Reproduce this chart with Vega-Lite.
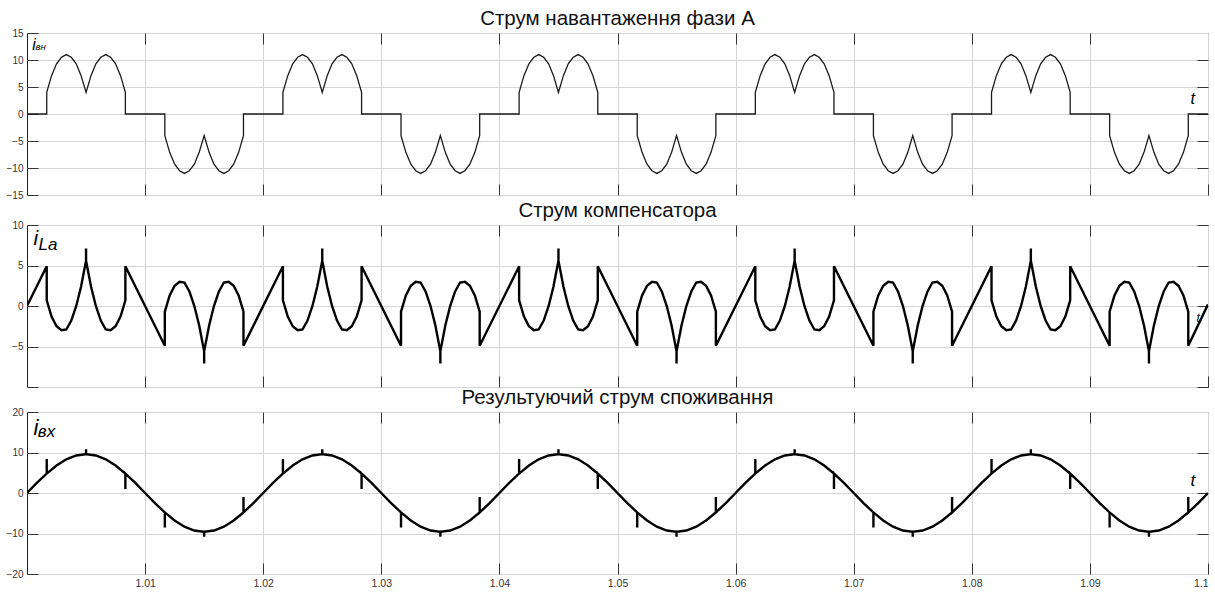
{
"$schema":"https://vega.github.io/schema/vega-lite/v6.json",
"background":"white",
"padding":{"left":5,"top":8,"right":8,"bottom":1},
"spacing":-1,
"config":{
 "font":"Liberation Sans",
 "view":{"stroke":"#222","strokeWidth":1},
 "axis":{"grid":true,"gridColor":"#d4d4d4","gridWidth":1,"domain":false,"tickColor":"#333","tickSize":-11,"tickWidth":1,"labelFont":"Liberation Sans","labelFontSize":10,"labelColor":"#333","title":null},
 "title":{"fontSize":20.5,"fontWeight":"normal","font":"Liberation Sans","color":"#111","offset":-1}
},
"vconcat":[
{
 "title":"Струм навантаження фази А",
 "width":1181,"height":162,
 "layer":[
  {
   "data":{"values":[
{"t":1,"i":0},
{"t":1.00167,"i":0},{"t":1.00167,"i":4},{"t":1.00208,"i":7.1},{"t":1.0025,"i":9.3},{"t":1.00292,"i":10.5},{"t":1.00333,"i":11},{"t":1.00375,"i":10.5},{"t":1.00417,"i":9.3},{"t":1.00458,"i":7.1},{"t":1.005,"i":4},{"t":1.00542,"i":7.1},{"t":1.00583,"i":9.3},{"t":1.00625,"i":10.5},{"t":1.00667,"i":11},{"t":1.00708,"i":10.5},{"t":1.0075,"i":9.3},{"t":1.00792,"i":7.1},{"t":1.00833,"i":4},{"t":1.00833,"i":0},
{"t":1.01167,"i":0},{"t":1.01167,"i":-4},{"t":1.01208,"i":-7.1},{"t":1.0125,"i":-9.3},{"t":1.01292,"i":-10.5},{"t":1.01333,"i":-11},{"t":1.01375,"i":-10.5},{"t":1.01417,"i":-9.3},{"t":1.01458,"i":-7.1},{"t":1.015,"i":-4},{"t":1.01542,"i":-7.1},{"t":1.01583,"i":-9.3},{"t":1.01625,"i":-10.5},{"t":1.01667,"i":-11},{"t":1.01708,"i":-10.5},{"t":1.0175,"i":-9.3},{"t":1.01792,"i":-7.1},{"t":1.01833,"i":-4},{"t":1.01833,"i":0},
{"t":1.02167,"i":0},{"t":1.02167,"i":4},{"t":1.02208,"i":7.1},{"t":1.0225,"i":9.3},{"t":1.02292,"i":10.5},{"t":1.02333,"i":11},{"t":1.02375,"i":10.5},{"t":1.02417,"i":9.3},{"t":1.02458,"i":7.1},{"t":1.025,"i":4},{"t":1.02542,"i":7.1},{"t":1.02583,"i":9.3},{"t":1.02625,"i":10.5},{"t":1.02667,"i":11},{"t":1.02708,"i":10.5},{"t":1.0275,"i":9.3},{"t":1.02792,"i":7.1},{"t":1.02833,"i":4},{"t":1.02833,"i":0},
{"t":1.03167,"i":0},{"t":1.03167,"i":-4},{"t":1.03208,"i":-7.1},{"t":1.0325,"i":-9.3},{"t":1.03292,"i":-10.5},{"t":1.03333,"i":-11},{"t":1.03375,"i":-10.5},{"t":1.03417,"i":-9.3},{"t":1.03458,"i":-7.1},{"t":1.035,"i":-4},{"t":1.03542,"i":-7.1},{"t":1.03583,"i":-9.3},{"t":1.03625,"i":-10.5},{"t":1.03667,"i":-11},{"t":1.03708,"i":-10.5},{"t":1.0375,"i":-9.3},{"t":1.03792,"i":-7.1},{"t":1.03833,"i":-4},{"t":1.03833,"i":0},
{"t":1.04167,"i":0},{"t":1.04167,"i":4},{"t":1.04208,"i":7.1},{"t":1.0425,"i":9.3},{"t":1.04292,"i":10.5},{"t":1.04333,"i":11},{"t":1.04375,"i":10.5},{"t":1.04417,"i":9.3},{"t":1.04458,"i":7.1},{"t":1.045,"i":4},{"t":1.04542,"i":7.1},{"t":1.04583,"i":9.3},{"t":1.04625,"i":10.5},{"t":1.04667,"i":11},{"t":1.04708,"i":10.5},{"t":1.0475,"i":9.3},{"t":1.04792,"i":7.1},{"t":1.04833,"i":4},{"t":1.04833,"i":0},
{"t":1.05167,"i":0},{"t":1.05167,"i":-4},{"t":1.05208,"i":-7.1},{"t":1.0525,"i":-9.3},{"t":1.05292,"i":-10.5},{"t":1.05333,"i":-11},{"t":1.05375,"i":-10.5},{"t":1.05417,"i":-9.3},{"t":1.05458,"i":-7.1},{"t":1.055,"i":-4},{"t":1.05542,"i":-7.1},{"t":1.05583,"i":-9.3},{"t":1.05625,"i":-10.5},{"t":1.05667,"i":-11},{"t":1.05708,"i":-10.5},{"t":1.0575,"i":-9.3},{"t":1.05792,"i":-7.1},{"t":1.05833,"i":-4},{"t":1.05833,"i":0},
{"t":1.06167,"i":0},{"t":1.06167,"i":4},{"t":1.06208,"i":7.1},{"t":1.0625,"i":9.3},{"t":1.06292,"i":10.5},{"t":1.06333,"i":11},{"t":1.06375,"i":10.5},{"t":1.06417,"i":9.3},{"t":1.06458,"i":7.1},{"t":1.065,"i":4},{"t":1.06542,"i":7.1},{"t":1.06583,"i":9.3},{"t":1.06625,"i":10.5},{"t":1.06667,"i":11},{"t":1.06708,"i":10.5},{"t":1.0675,"i":9.3},{"t":1.06792,"i":7.1},{"t":1.06833,"i":4},{"t":1.06833,"i":0},
{"t":1.07167,"i":0},{"t":1.07167,"i":-4},{"t":1.07208,"i":-7.1},{"t":1.0725,"i":-9.3},{"t":1.07292,"i":-10.5},{"t":1.07333,"i":-11},{"t":1.07375,"i":-10.5},{"t":1.07417,"i":-9.3},{"t":1.07458,"i":-7.1},{"t":1.075,"i":-4},{"t":1.07542,"i":-7.1},{"t":1.07583,"i":-9.3},{"t":1.07625,"i":-10.5},{"t":1.07667,"i":-11},{"t":1.07708,"i":-10.5},{"t":1.0775,"i":-9.3},{"t":1.07792,"i":-7.1},{"t":1.07833,"i":-4},{"t":1.07833,"i":0},
{"t":1.08167,"i":0},{"t":1.08167,"i":4},{"t":1.08208,"i":7.1},{"t":1.0825,"i":9.3},{"t":1.08292,"i":10.5},{"t":1.08333,"i":11},{"t":1.08375,"i":10.5},{"t":1.08417,"i":9.3},{"t":1.08458,"i":7.1},{"t":1.085,"i":4},{"t":1.08542,"i":7.1},{"t":1.08583,"i":9.3},{"t":1.08625,"i":10.5},{"t":1.08667,"i":11},{"t":1.08708,"i":10.5},{"t":1.0875,"i":9.3},{"t":1.08792,"i":7.1},{"t":1.08833,"i":4},{"t":1.08833,"i":0},
{"t":1.09167,"i":0},{"t":1.09167,"i":-4},{"t":1.09208,"i":-7.1},{"t":1.0925,"i":-9.3},{"t":1.09292,"i":-10.5},{"t":1.09333,"i":-11},{"t":1.09375,"i":-10.5},{"t":1.09417,"i":-9.3},{"t":1.09458,"i":-7.1},{"t":1.095,"i":-4},{"t":1.09542,"i":-7.1},{"t":1.09583,"i":-9.3},{"t":1.09625,"i":-10.5},{"t":1.09667,"i":-11},{"t":1.09708,"i":-10.5},{"t":1.0975,"i":-9.3},{"t":1.09792,"i":-7.1},{"t":1.09833,"i":-4},{"t":1.09833,"i":0},
{"t":1.1,"i":0}
   ]},
   "mark":{"type":"line","color":"#1a1a1a","strokeWidth":1.3,"clip":true},
   "encoding":{
    "x":{"field":"t","type":"quantitative","scale":{"domain":[1.0,1.1],"nice":false,"zero":false},"axis":{"orient":"bottom","values":[1.01,1.02,1.03,1.04,1.05,1.06,1.07,1.08,1.09,1.1],"labels":false,"maxExtent":0}},
    "y":{"field":"i","type":"quantitative","scale":{"domain":[-15,15],"nice":false},"axis":{"orient":"left","values":[-15,-10,-5,0,5,10,15],"labelPadding":15,"minExtent":20,"maxExtent":20}},
    "order":{"value":null}
   }
  },
  {
   "data":{"values":[{"t":1.00045,"i":11.85,"s":"i"},{"t":1.00072,"i":11.85,"s":"вн"},{"t":1.09852,"i":1.85,"s":"t"}]},
   "mark":{"type":"text","align":"left","baseline":"alphabetic","fontStyle":"italic","color":"#000","font":"Liberation Sans"},
   "encoding":{
    "x":{"field":"t","type":"quantitative","axis":{"orient":"top","values":[1.01,1.02,1.03,1.04,1.05,1.06,1.07,1.08,1.09],"labels":false,"grid":false,"maxExtent":0}},
    "y":{"field":"i","type":"quantitative","axis":{"orient":"right","values":[-10,-5,0,5,10],"labels":false,"grid":false,"maxExtent":0}},
    "text":{"field":"s"},
    "size":{"condition":{"test":"datum.s=='вн'","value":9.5},"value":16}
   }
  }
 ],
 "resolve":{"axis":{"x":"independent","y":"independent"}}
},
{
 "title":"Струм компенсатора",
 "width":1181,"height":162,
 "layer":[
  {
   "data":{"values":[
{"t":1,"i":0},
{"t":1.00167,"i":4.9},{"t":1.00167,"i":0.7},{"t":1.00208,"i":-1.3},{"t":1.0025,"i":-2.5},{"t":1.00292,"i":-3},{"t":1.00333,"i":-2.9},{"t":1.00375,"i":-1.8},{"t":1.00417,"i":0},{"t":1.00458,"i":2.4},{"t":1.005,"i":5.6},{"t":1.005,"i":7.1},{"t":1.005,"i":5.6},{"t":1.00542,"i":2.4},{"t":1.00583,"i":0},{"t":1.00625,"i":-1.8},{"t":1.00667,"i":-2.9},{"t":1.00708,"i":-3},{"t":1.0075,"i":-2.5},{"t":1.00792,"i":-1.3},{"t":1.00833,"i":0.7},{"t":1.00833,"i":4.9},
{"t":1.01167,"i":-4.9},{"t":1.01167,"i":-0.7},{"t":1.01208,"i":1.3},{"t":1.0125,"i":2.5},{"t":1.01292,"i":3},{"t":1.01333,"i":2.9},{"t":1.01375,"i":1.8},{"t":1.01417,"i":0},{"t":1.01458,"i":-2.4},{"t":1.015,"i":-5.6},{"t":1.015,"i":-7.1},{"t":1.015,"i":-5.6},{"t":1.01542,"i":-2.4},{"t":1.01583,"i":0},{"t":1.01625,"i":1.8},{"t":1.01667,"i":2.9},{"t":1.01708,"i":3},{"t":1.0175,"i":2.5},{"t":1.01792,"i":1.3},{"t":1.01833,"i":-0.7},{"t":1.01833,"i":-4.9},
{"t":1.02167,"i":4.9},{"t":1.02167,"i":0.7},{"t":1.02208,"i":-1.3},{"t":1.0225,"i":-2.5},{"t":1.02292,"i":-3},{"t":1.02333,"i":-2.9},{"t":1.02375,"i":-1.8},{"t":1.02417,"i":0},{"t":1.02458,"i":2.4},{"t":1.025,"i":5.6},{"t":1.025,"i":7.1},{"t":1.025,"i":5.6},{"t":1.02542,"i":2.4},{"t":1.02583,"i":0},{"t":1.02625,"i":-1.8},{"t":1.02667,"i":-2.9},{"t":1.02708,"i":-3},{"t":1.0275,"i":-2.5},{"t":1.02792,"i":-1.3},{"t":1.02833,"i":0.7},{"t":1.02833,"i":4.9},
{"t":1.03167,"i":-4.9},{"t":1.03167,"i":-0.7},{"t":1.03208,"i":1.3},{"t":1.0325,"i":2.5},{"t":1.03292,"i":3},{"t":1.03333,"i":2.9},{"t":1.03375,"i":1.8},{"t":1.03417,"i":0},{"t":1.03458,"i":-2.4},{"t":1.035,"i":-5.6},{"t":1.035,"i":-7.1},{"t":1.035,"i":-5.6},{"t":1.03542,"i":-2.4},{"t":1.03583,"i":0},{"t":1.03625,"i":1.8},{"t":1.03667,"i":2.9},{"t":1.03708,"i":3},{"t":1.0375,"i":2.5},{"t":1.03792,"i":1.3},{"t":1.03833,"i":-0.7},{"t":1.03833,"i":-4.9},
{"t":1.04167,"i":4.9},{"t":1.04167,"i":0.7},{"t":1.04208,"i":-1.3},{"t":1.0425,"i":-2.5},{"t":1.04292,"i":-3},{"t":1.04333,"i":-2.9},{"t":1.04375,"i":-1.8},{"t":1.04417,"i":0},{"t":1.04458,"i":2.4},{"t":1.045,"i":5.6},{"t":1.045,"i":7.1},{"t":1.045,"i":5.6},{"t":1.04542,"i":2.4},{"t":1.04583,"i":0},{"t":1.04625,"i":-1.8},{"t":1.04667,"i":-2.9},{"t":1.04708,"i":-3},{"t":1.0475,"i":-2.5},{"t":1.04792,"i":-1.3},{"t":1.04833,"i":0.7},{"t":1.04833,"i":4.9},
{"t":1.05167,"i":-4.9},{"t":1.05167,"i":-0.7},{"t":1.05208,"i":1.3},{"t":1.0525,"i":2.5},{"t":1.05292,"i":3},{"t":1.05333,"i":2.9},{"t":1.05375,"i":1.8},{"t":1.05417,"i":0},{"t":1.05458,"i":-2.4},{"t":1.055,"i":-5.6},{"t":1.055,"i":-7.1},{"t":1.055,"i":-5.6},{"t":1.05542,"i":-2.4},{"t":1.05583,"i":0},{"t":1.05625,"i":1.8},{"t":1.05667,"i":2.9},{"t":1.05708,"i":3},{"t":1.0575,"i":2.5},{"t":1.05792,"i":1.3},{"t":1.05833,"i":-0.7},{"t":1.05833,"i":-4.9},
{"t":1.06167,"i":4.9},{"t":1.06167,"i":0.7},{"t":1.06208,"i":-1.3},{"t":1.0625,"i":-2.5},{"t":1.06292,"i":-3},{"t":1.06333,"i":-2.9},{"t":1.06375,"i":-1.8},{"t":1.06417,"i":0},{"t":1.06458,"i":2.4},{"t":1.065,"i":5.6},{"t":1.065,"i":7.1},{"t":1.065,"i":5.6},{"t":1.06542,"i":2.4},{"t":1.06583,"i":0},{"t":1.06625,"i":-1.8},{"t":1.06667,"i":-2.9},{"t":1.06708,"i":-3},{"t":1.0675,"i":-2.5},{"t":1.06792,"i":-1.3},{"t":1.06833,"i":0.7},{"t":1.06833,"i":4.9},
{"t":1.07167,"i":-4.9},{"t":1.07167,"i":-0.7},{"t":1.07208,"i":1.3},{"t":1.0725,"i":2.5},{"t":1.07292,"i":3},{"t":1.07333,"i":2.9},{"t":1.07375,"i":1.8},{"t":1.07417,"i":0},{"t":1.07458,"i":-2.4},{"t":1.075,"i":-5.6},{"t":1.075,"i":-7.1},{"t":1.075,"i":-5.6},{"t":1.07542,"i":-2.4},{"t":1.07583,"i":0},{"t":1.07625,"i":1.8},{"t":1.07667,"i":2.9},{"t":1.07708,"i":3},{"t":1.0775,"i":2.5},{"t":1.07792,"i":1.3},{"t":1.07833,"i":-0.7},{"t":1.07833,"i":-4.9},
{"t":1.08167,"i":4.9},{"t":1.08167,"i":0.7},{"t":1.08208,"i":-1.3},{"t":1.0825,"i":-2.5},{"t":1.08292,"i":-3},{"t":1.08333,"i":-2.9},{"t":1.08375,"i":-1.8},{"t":1.08417,"i":0},{"t":1.08458,"i":2.4},{"t":1.085,"i":5.6},{"t":1.085,"i":7.1},{"t":1.085,"i":5.6},{"t":1.08542,"i":2.4},{"t":1.08583,"i":0},{"t":1.08625,"i":-1.8},{"t":1.08667,"i":-2.9},{"t":1.08708,"i":-3},{"t":1.0875,"i":-2.5},{"t":1.08792,"i":-1.3},{"t":1.08833,"i":0.7},{"t":1.08833,"i":4.9},
{"t":1.09167,"i":-4.9},{"t":1.09167,"i":-0.7},{"t":1.09208,"i":1.3},{"t":1.0925,"i":2.5},{"t":1.09292,"i":3},{"t":1.09333,"i":2.9},{"t":1.09375,"i":1.8},{"t":1.09417,"i":0},{"t":1.09458,"i":-2.4},{"t":1.095,"i":-5.6},{"t":1.095,"i":-7.1},{"t":1.095,"i":-5.6},{"t":1.09542,"i":-2.4},{"t":1.09583,"i":0},{"t":1.09625,"i":1.8},{"t":1.09667,"i":2.9},{"t":1.09708,"i":3},{"t":1.0975,"i":2.5},{"t":1.09792,"i":1.3},{"t":1.09833,"i":-0.7},{"t":1.09833,"i":-4.9},
{"t":1.1,"i":0.2}
   ]},
   "mark":{"type":"line","color":"#000","strokeWidth":2.4,"clip":true},
   "encoding":{
    "x":{"field":"t","type":"quantitative","scale":{"domain":[1.0,1.1],"nice":false,"zero":false},"axis":{"orient":"bottom","values":[1.01,1.02,1.03,1.04,1.05,1.06,1.07,1.08,1.09,1.1],"labels":false,"maxExtent":0}},
    "y":{"field":"i","type":"quantitative","scale":{"domain":[-10,10],"nice":false},"axis":{"orient":"left","values":[-10,-5,0,5,10],"labelExpr":"datum.value==-10?'':datum.label","labelPadding":15,"minExtent":20,"maxExtent":20}},
    "order":{"value":null}
   }
  },
  {
   "data":{"values":[{"t":1.00055,"i":7.57,"s":"i"},{"t":1.00097,"i":6.95,"s":"La"},{"t":1.09902,"i":-1.94,"s":"t"}]},
   "mark":{"type":"text","align":"left","baseline":"alphabetic","fontStyle":"italic","color":"#000","font":"Liberation Sans"},
   "encoding":{
    "x":{"field":"t","type":"quantitative","axis":{"orient":"top","values":[1.01,1.02,1.03,1.04,1.05,1.06,1.07,1.08,1.09],"labels":false,"grid":false,"maxExtent":0}},
    "y":{"field":"i","type":"quantitative","axis":{"orient":"right","values":[-10,-5,0,5,10],"labels":false,"grid":false,"maxExtent":0}},
    "text":{"field":"s"},
    "size":{"condition":[{"test":"datum.s=='La'","value":17},{"test":"datum.s=='t'","value":12}],"value":21}
   }
  }
 ],
 "resolve":{"axis":{"x":"independent","y":"independent"}}
},
{
 "title":"Результуючий струм споживання",
 "width":1181,"height":162,
 "layer":[
  {
   "data":{"values":[
{"t":1,"i":0},
{"t":1.00083,"i":2.48},{"t":1.00167,"i":4.8},{"t":1.00167,"i":8.4},{"t":1.00167,"i":4.8},{"t":1.0025,"i":6.79},{"t":1.00333,"i":8.31},{"t":1.00417,"i":9.27},{"t":1.005,"i":9.6},{"t":1.005,"i":10.8},{"t":1.005,"i":9.6},{"t":1.00583,"i":9.27},{"t":1.00667,"i":8.31},{"t":1.0075,"i":6.79},{"t":1.00833,"i":4.8},{"t":1.00833,"i":1},{"t":1.00833,"i":4.8},{"t":1.00917,"i":2.48},{"t":1.01,"i":0},
{"t":1.01083,"i":-2.48},{"t":1.01167,"i":-4.8},{"t":1.01167,"i":-8.5},{"t":1.01167,"i":-4.8},{"t":1.0125,"i":-6.79},{"t":1.01333,"i":-8.31},{"t":1.01417,"i":-9.27},{"t":1.015,"i":-9.6},{"t":1.015,"i":-10.8},{"t":1.015,"i":-9.6},{"t":1.01583,"i":-9.27},{"t":1.01667,"i":-8.31},{"t":1.0175,"i":-6.79},{"t":1.01833,"i":-4.8},{"t":1.01833,"i":-1},{"t":1.01833,"i":-4.8},{"t":1.01917,"i":-2.48},{"t":1.02,"i":0},
{"t":1.02083,"i":2.48},{"t":1.02167,"i":4.8},{"t":1.02167,"i":8.4},{"t":1.02167,"i":4.8},{"t":1.0225,"i":6.79},{"t":1.02333,"i":8.31},{"t":1.02417,"i":9.27},{"t":1.025,"i":9.6},{"t":1.025,"i":10.8},{"t":1.025,"i":9.6},{"t":1.02583,"i":9.27},{"t":1.02667,"i":8.31},{"t":1.0275,"i":6.79},{"t":1.02833,"i":4.8},{"t":1.02833,"i":1},{"t":1.02833,"i":4.8},{"t":1.02917,"i":2.48},{"t":1.03,"i":0},
{"t":1.03083,"i":-2.48},{"t":1.03167,"i":-4.8},{"t":1.03167,"i":-8.5},{"t":1.03167,"i":-4.8},{"t":1.0325,"i":-6.79},{"t":1.03333,"i":-8.31},{"t":1.03417,"i":-9.27},{"t":1.035,"i":-9.6},{"t":1.035,"i":-10.8},{"t":1.035,"i":-9.6},{"t":1.03583,"i":-9.27},{"t":1.03667,"i":-8.31},{"t":1.0375,"i":-6.79},{"t":1.03833,"i":-4.8},{"t":1.03833,"i":-1},{"t":1.03833,"i":-4.8},{"t":1.03917,"i":-2.48},{"t":1.04,"i":0},
{"t":1.04083,"i":2.48},{"t":1.04167,"i":4.8},{"t":1.04167,"i":8.4},{"t":1.04167,"i":4.8},{"t":1.0425,"i":6.79},{"t":1.04333,"i":8.31},{"t":1.04417,"i":9.27},{"t":1.045,"i":9.6},{"t":1.045,"i":10.8},{"t":1.045,"i":9.6},{"t":1.04583,"i":9.27},{"t":1.04667,"i":8.31},{"t":1.0475,"i":6.79},{"t":1.04833,"i":4.8},{"t":1.04833,"i":1},{"t":1.04833,"i":4.8},{"t":1.04917,"i":2.48},{"t":1.05,"i":0},
{"t":1.05083,"i":-2.48},{"t":1.05167,"i":-4.8},{"t":1.05167,"i":-8.5},{"t":1.05167,"i":-4.8},{"t":1.0525,"i":-6.79},{"t":1.05333,"i":-8.31},{"t":1.05417,"i":-9.27},{"t":1.055,"i":-9.6},{"t":1.055,"i":-10.8},{"t":1.055,"i":-9.6},{"t":1.05583,"i":-9.27},{"t":1.05667,"i":-8.31},{"t":1.0575,"i":-6.79},{"t":1.05833,"i":-4.8},{"t":1.05833,"i":-1},{"t":1.05833,"i":-4.8},{"t":1.05917,"i":-2.48},{"t":1.06,"i":0},
{"t":1.06083,"i":2.48},{"t":1.06167,"i":4.8},{"t":1.06167,"i":8.4},{"t":1.06167,"i":4.8},{"t":1.0625,"i":6.79},{"t":1.06333,"i":8.31},{"t":1.06417,"i":9.27},{"t":1.065,"i":9.6},{"t":1.065,"i":10.8},{"t":1.065,"i":9.6},{"t":1.06583,"i":9.27},{"t":1.06667,"i":8.31},{"t":1.0675,"i":6.79},{"t":1.06833,"i":4.8},{"t":1.06833,"i":1},{"t":1.06833,"i":4.8},{"t":1.06917,"i":2.48},{"t":1.07,"i":0},
{"t":1.07083,"i":-2.48},{"t":1.07167,"i":-4.8},{"t":1.07167,"i":-8.5},{"t":1.07167,"i":-4.8},{"t":1.0725,"i":-6.79},{"t":1.07333,"i":-8.31},{"t":1.07417,"i":-9.27},{"t":1.075,"i":-9.6},{"t":1.075,"i":-10.8},{"t":1.075,"i":-9.6},{"t":1.07583,"i":-9.27},{"t":1.07667,"i":-8.31},{"t":1.0775,"i":-6.79},{"t":1.07833,"i":-4.8},{"t":1.07833,"i":-1},{"t":1.07833,"i":-4.8},{"t":1.07917,"i":-2.48},{"t":1.08,"i":0},
{"t":1.08083,"i":2.48},{"t":1.08167,"i":4.8},{"t":1.08167,"i":8.4},{"t":1.08167,"i":4.8},{"t":1.0825,"i":6.79},{"t":1.08333,"i":8.31},{"t":1.08417,"i":9.27},{"t":1.085,"i":9.6},{"t":1.085,"i":10.8},{"t":1.085,"i":9.6},{"t":1.08583,"i":9.27},{"t":1.08667,"i":8.31},{"t":1.0875,"i":6.79},{"t":1.08833,"i":4.8},{"t":1.08833,"i":1},{"t":1.08833,"i":4.8},{"t":1.08917,"i":2.48},{"t":1.09,"i":0},
{"t":1.09083,"i":-2.48},{"t":1.09167,"i":-4.8},{"t":1.09167,"i":-8.5},{"t":1.09167,"i":-4.8},{"t":1.0925,"i":-6.79},{"t":1.09333,"i":-8.31},{"t":1.09417,"i":-9.27},{"t":1.095,"i":-9.6},{"t":1.095,"i":-10.8},{"t":1.095,"i":-9.6},{"t":1.09583,"i":-9.27},{"t":1.09667,"i":-8.31},{"t":1.0975,"i":-6.79},{"t":1.09833,"i":-4.8},{"t":1.09833,"i":-1},{"t":1.09833,"i":-4.8},{"t":1.09917,"i":-2.48},{"t":1.1,"i":0}
   ]},
   "mark":{"type":"line","color":"#000","strokeWidth":2.4,"clip":true},
   "encoding":{
    "x":{"field":"t","type":"quantitative","scale":{"domain":[1.0,1.1],"nice":false,"zero":false},"axis":{"orient":"bottom","values":[1.01,1.02,1.03,1.04,1.05,1.06,1.07,1.08,1.09,1.1],"format":"~g","labelPadding":15,"labelFontSize":10.5}},
    "y":{"field":"i","type":"quantitative","scale":{"domain":[-20,20],"nice":false},"axis":{"orient":"left","values":[-20,-10,0,10,20],"labelPadding":15,"minExtent":20,"maxExtent":20}},
    "order":{"value":null}
   }
  },
  {
   "data":{"values":[{"t":1.00055,"i":14.4,"s":"i"},{"t":1.00092,"i":13.86,"s":"вх"},{"t":1.09852,"i":1.65,"s":"t"}]},
   "mark":{"type":"text","align":"left","baseline":"alphabetic","fontStyle":"italic","color":"#000","font":"Liberation Sans"},
   "encoding":{
    "x":{"field":"t","type":"quantitative","axis":{"orient":"top","values":[1.01,1.02,1.03,1.04,1.05,1.06,1.07,1.08,1.09],"labels":false,"grid":false,"maxExtent":0}},
    "y":{"field":"i","type":"quantitative","axis":{"orient":"right","values":[-10,0,10],"labels":false,"grid":false,"maxExtent":0}},
    "text":{"field":"s"},
    "size":{"condition":[{"test":"datum.s=='вх'","value":17},{"test":"datum.s=='t'","value":17}],"value":22}
   }
  }
 ],
 "resolve":{"axis":{"x":"independent","y":"independent"}}
}
]
}
